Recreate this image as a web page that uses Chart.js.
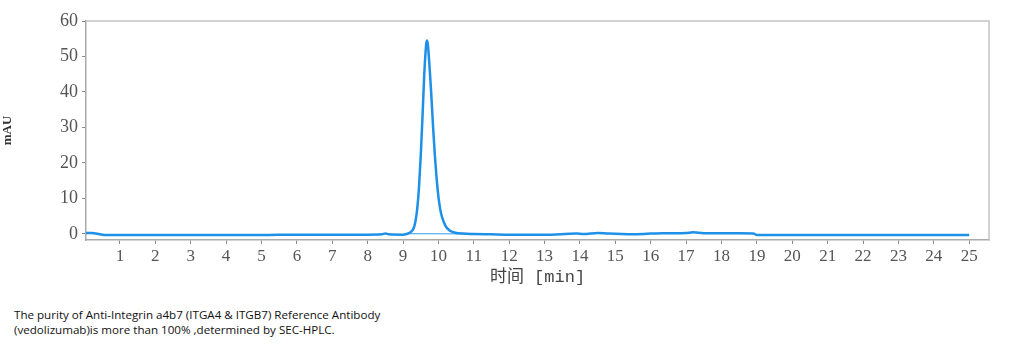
<!DOCTYPE html>
<html>
<head>
<meta charset="utf-8">
<script src="https://cdn.jsdelivr.net/npm/chart.js@4/dist/chart.umd.min.js"></script>
<style>
html,body{margin:0;padding:0;background:#fff;}
#wrap{position:relative;width:1009px;height:346px;}
#c{position:absolute;left:0;top:0;}
#cap{position:absolute;left:14px;top:307px;font-family:"Open Sans","Noto Sans",sans-serif;font-size:11.6px;line-height:15px;color:#111;}
</style>
</head>
<body>
<div id="wrap">
<canvas id="c" width="1009" height="292"></canvas>
<div id="cap">The purity of Anti-Integrin a4b7 (ITGA4 &amp; ITGB7) Reference Antibody<br>(vedolizumab)is more than 100% ,determined by SEC-HPLC.</div>
</div>
<script>
const timeMin = [0.04,0.2,0.4,0.6,1,2,3,4,5,6,7,8,8.4,8.5,8.6,9.0,9.1,9.2,9.3,9.35,9.4,9.45,9.5,9.55,9.6,9.65,9.67,9.7,9.75,9.8,9.85,9.9,9.95,10.0,10.05,10.1,10.2,10.3,10.4,10.5,10.7,11.0,11.5,12,13,13.9,14.1,14.5,14.8,15.5,16,16.5,17.0,17.2,17.5,18.0,18.5,18.9,19.0,20,21,22,23,24,25];
const signalMAU = [0.3,0.25,0.0,-0.3,-0.3,-0.3,-0.3,-0.3,-0.3,-0.2,-0.2,-0.2,-0.1,0.15,-0.1,-0.2,0.0,0.4,1.6,3.5,7,13,22,33,45,53,54.5,53.5,47,39,30,22,15.5,10.5,7,4.8,2.3,1.1,0.6,0.3,0.1,0.0,-0.1,-0.2,-0.2,0.1,0.0,0.3,0.1,-0.1,0.1,0.2,0.3,0.45,0.2,0.2,0.2,0.15,-0.3,-0.3,-0.3,-0.3,-0.3,-0.3,-0.3];
const baseTime = [9.05,11.2];
const baseMAU = [0.1,0.05];
const xTickLabels = [1,2,3,4,5,6,7,8,9,10,11,12,13,14,15,16,17,18,19,20,21,22,23,24,25];
const yTickLabels = [0,10,20,30,40,50,60];

const mainData = timeMin.map((t,i)=>({x:t,y:signalMAU[i]}));
const baseData = baseTime.map((t,i)=>({x:t,y:baseMAU[i]}));

const frame = {
  id:'frame',
  afterDraw(chart){
    const a = chart.chartArea, ctx = chart.ctx;
    ctx.save();
    ctx.strokeStyle = '#c4c4c4';
    ctx.lineWidth = 1.5;
    ctx.beginPath();
    ctx.moveTo(a.left, a.top); ctx.lineTo(a.right, a.top); ctx.lineTo(a.right, a.bottom);
    ctx.stroke();
    ctx.restore();
  }
};

new Chart(document.getElementById('c'), {
  type:'line',
  data:{datasets:[
    {data:baseData, borderColor:'rgba(30,144,232,0.7)', borderWidth:1.2, pointRadius:0, fill:false},
    {data:mainData, borderColor:'#1e90e8', borderWidth:2.5, pointRadius:0, fill:false, cubicInterpolationMode:'monotone'}
  ]},
  plugins:[frame],
  options:{
    responsive:false, animation:false,
    layout:{padding:{top:21,right:20,left:0,bottom:0}},
    plugins:{legend:{display:false},tooltip:{enabled:false}},
    scales:{
      x:{
        type:'linear', min:0.04, max:25.56,
        afterBuildTicks(s){ s.ticks = xTickLabels.map(v=>({value:v})); },
        afterFit(s){ s.height = 52; },
        grid:{drawOnChartArea:false, drawTicks:true, tickLength:4, color:'#888'},
        border:{color:'#aaa', width:1.5},
        ticks:{color:'#555', padding:2, maxRotation:0, autoSkip:false, font:{family:'"Liberation Serif", serif', size:17}},
        title:{display:true, text:'时间 [min]', color:'#444', padding:{top:0,bottom:4}, font:{family:'"Liberation Mono","Noto Sans CJK SC", monospace', size:17}}
      },
      y:{
        min:-1.7, max:60,
        afterBuildTicks(s){ s.ticks = yTickLabels.map(v=>({value:v})); },
        afterFit(s){ s.width = 86; },
        grid:{drawOnChartArea:false, drawTicks:true, tickLength:4, color:'#888'},
        border:{color:'#aaa', width:1.5},
        ticks:{color:'#555', padding:4, font:{family:'"Liberation Serif", serif', size:18}},
        title:{display:true, text:'mAU', color:'#333', padding:{top:0,bottom:0}, font:{family:'"Liberation Serif", serif', size:13, weight:'bold'}}
      }
    }
  }
});
</script>
</body>
</html>
